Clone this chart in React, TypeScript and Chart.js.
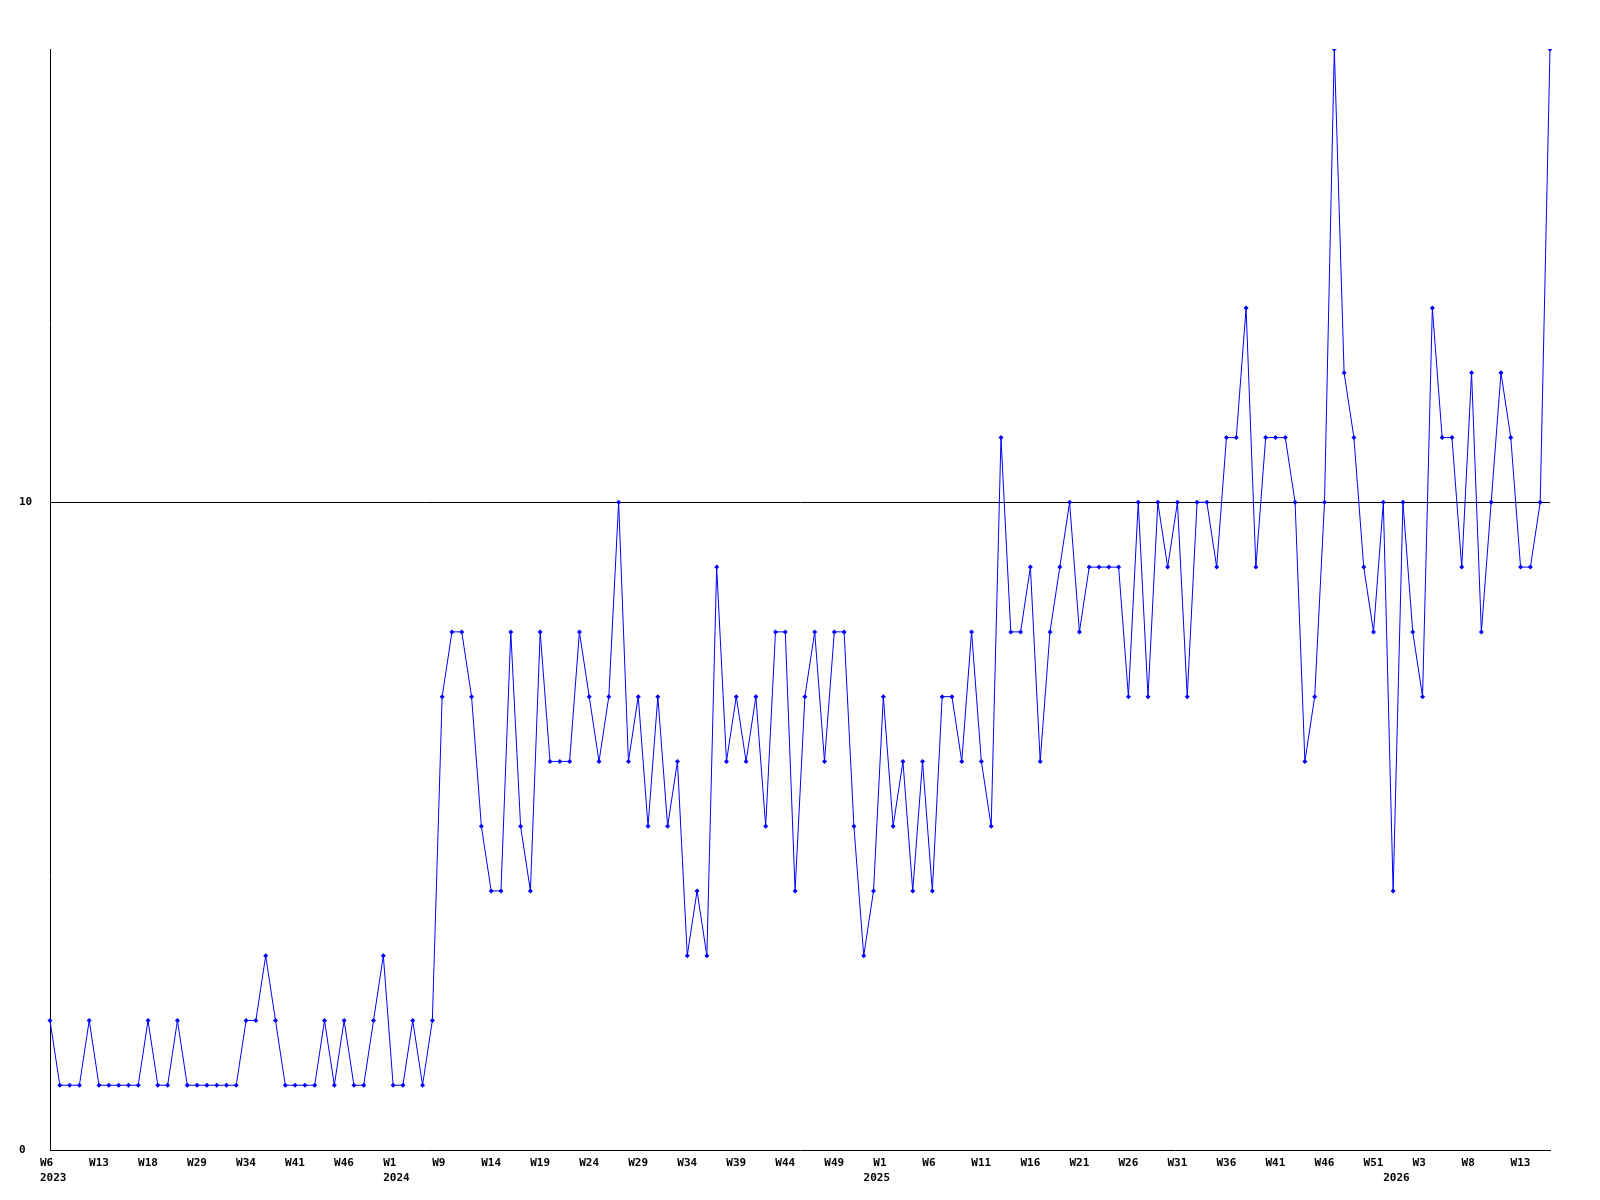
import React, { useEffect, useRef } from "react";
import { Chart, registerables } from "chart.js";

Chart.register(...registerables);

// Week labels shown every 5th point (index 0, 5, 10, ...)
const weekTicks: string[] = [
  "W6", "W13", "W18", "W29", "W34", "W41", "W46", "W1", "W9", "W14", "W19",
  "W24", "W29", "W34", "W39", "W44", "W49", "W1", "W6", "W11", "W16", "W21",
  "W26", "W31", "W36", "W41", "W46", "W51", "W3", "W8", "W13",
];
// Year labels: point index where each year starts
const yearIndex: number[] = [0, 35, 84, 137];
const yearNames: string[] = ["2023", "2024", "2025", "2026"];

const values: number[] = [
  2, 1, 1, 1, 2, 1, 1, 1, 1, 1, 2, 1, 1, 2, 1, 1, 1, 1, 1, 1,
  2, 2, 3, 2, 1, 1, 1, 1, 2, 1, 2, 1, 1, 2, 3, 1, 1, 2, 1, 2,
  7, 8, 8, 7, 5, 4, 4, 8, 5, 4, 8, 6, 6, 6, 8, 7, 6, 7, 10, 6,
  7, 5, 7, 5, 6, 3, 4, 3,
  9, 6, 7, 6, 7, 5, 8, 8, 4, 7, 8, 6, 8, 8, 5, 3, 4, 7, 5, 6,
  4, 6, 4, 7, 7, 6, 8, 6, 5,
  11, 8, 8, 9, 6, 8, 9, 10, 8, 9, 9, 9, 9, 7, 10, 7, 10, 9, 10, 7,
  10, 10, 9, 11, 11,
  13, 9, 11, 11, 11, 10, 6, 7, 10, 17, 12, 11, 9, 8, 10,
  4, 10, 8, 7, 13, 11, 11, 9, 12, 8, 10, 12, 11, 9, 9, 10, 17,
];

const yTickValues: number[] = [0, 10];
const yMin = 0;
const yMax = 17;
const labelEvery = 5;

const labels: (string | string[])[] = values.map((_, i) => {
  const w = i % labelEvery === 0 ? weekTicks[i / labelEvery] ?? "" : "";
  const yi = yearIndex.indexOf(i);
  if (yi >= 0) return [w, yearNames[yi]];
  return w;
});

const FONT = { family: "'DejaVu Sans Mono', monospace", size: 11, weight: "bold" as const, lineHeight: 1.41 };

export default function App() {
  const ref = useRef<HTMLCanvasElement | null>(null);

  useEffect(() => {
    if (!ref.current) return;
    const chart = new Chart(ref.current, {
      type: "line",
      data: {
        labels,
        datasets: [
          {
            data: values,
            borderColor: "#0000ff",
            backgroundColor: "#0000ff",
            borderWidth: 1,
            pointStyle: "rectRot",
            pointRadius: 2.5,
            pointBorderWidth: 0,
            pointBackgroundColor: "#0000ff",
            tension: 0,
            fill: false,
          },
        ],
      },
      options: {
        animation: false,
        responsive: false,
        devicePixelRatio: 1,
        layout: { padding: { left: 19, right: 50, top: 49, bottom: 0 } },
        plugins: { legend: { display: false }, tooltip: { enabled: false }, title: { display: false } },
        scales: {
          x: {
            type: "category",
            offset: false,
            grid: { display: false, drawTicks: false },
            border: { display: true, color: "#000000", width: 1 },
            afterFit: (s: any) => {
              s.height = 50;
            },
            ticks: {
              autoSkip: false,
              maxRotation: 0,
              minRotation: 0,
              align: "start",
              labelOffset: -10,
              padding: 5,
              color: "#000000",
              font: FONT,
              callback: function (this: any, _v: any, i: number) {
                const l = labels[i];
                return l === "" ? null : l;
              },
            },
          },
          y: {
            min: yMin,
            max: yMax,
            afterBuildTicks: (s: any) => {
              s.ticks = yTickValues.map((v) => ({ value: v }));
            },
            afterFit: (s: any) => {
              s.width = 31;
            },
            grid: {
              display: true,
              drawTicks: false,
              color: (ctx: any) => (ctx.tick && ctx.tick.value === 10 ? "#000000" : "rgba(0,0,0,0)"),
              lineWidth: 1,
            },
            border: { display: true, color: "#000000", width: 1 },
            ticks: {
              crossAlign: "far",
              padding: 0,
              color: "#000000",
              font: FONT,
            },
          },
        },
      },
    });
    return () => chart.destroy();
  }, []);

  return (
    <div style={{ position: "absolute", left: 0, top: 0, width: 1600, height: 1200, background: "#fff" }}>
      <canvas ref={ref} width={1600} height={1200} style={{ width: 1600, height: 1200, display: "block" }} />
    </div>
  );
}
